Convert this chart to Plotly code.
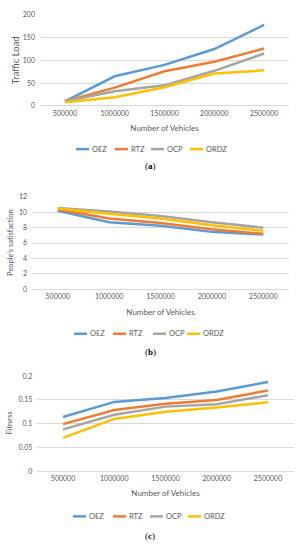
import plotly.graph_objects as go

categories = ["500000", "1000000", "1500000", "2000000", "2500000"]
series_names = ["OEZ", "RTZ", "OCP", "ORDZ"]
colors = ["#5B9BD5", "#ED7D31", "#A5A5A5", "#FFC000"]

traffic_load = {
    "OEZ": [10, 65, 90, 125, 178],
    "RTZ": [10, 40, 76, 97, 126],
    "OCP": [10, 32, 45, 77, 115],
    "ORDZ": [8, 19, 41, 71, 78],
}
satisfaction = {
    "OEZ": [10.2, 8.7, 8.25, 7.45, 7.1],
    "RTZ": [10.4, 9.2, 8.6, 7.8, 7.2],
    "OCP": [10.55, 10.1, 9.5, 8.7, 8.0],
    "ORDZ": [10.5, 9.8, 9.2, 8.3, 7.6],
}
fitness = {
    "OEZ": [0.114, 0.146, 0.154, 0.168, 0.188],
    "RTZ": [0.099, 0.129, 0.142, 0.150, 0.170],
    "OCP": [0.088, 0.119, 0.136, 0.141, 0.160],
    "ORDZ": [0.070, 0.110, 0.125, 0.134, 0.145],
}

y_titles = ["Traffic Load", "People's satisfaction", "Fitness"]
x_title = "Number of Vehicles"
captions = ["a", "b", "c"]
y_ticks = [[0, 50, 100, 150, 200], [0, 2, 4, 6, 8, 10, 12], [0, 0.05, 0.1, 0.15, 0.2]]
y_ticktext = [["0", "50", "100", "150", "200"], ["0", "2", "4", "6", "8", "10", "12"],
              ["0", "0.05", "0.1", "0.15", "0.2"]]
y_ranges = [[0, 200], [0, 12], [0, 0.2]]

W, H = 301, 550
FONT = "Lato, Open Sans, sans-serif"
GRAY = "#595959"

# pixel layout per panel: (x0, x1, ytop, ybottom)
panels_px = [(40, 289, 10.7, 103.3), (32, 289, 195, 289), (37.4, 293.6, 376.7, 473.3)]
legend_y = [147, 334, 519]
caption_y = [164, 352, 539]
ytitle_x = [15, 11, 10]
legend_x = [[76, 115, 151, 190], [74, 113, 153, 187], [73, 113, 150, 188]]
xtitle_standoff = [9, 10, 9]

datasets = [traffic_load, satisfaction, fitness]

fig = go.Figure()
shapes = []
annotations = []
for i, data in enumerate(datasets):
    xa = "x" if i == 0 else f"x{i+1}"
    ya = "y" if i == 0 else f"y{i+1}"
    for name, col in zip(series_names, colors):
        fig.add_trace(go.Scatter(
            x=categories, y=data[name], mode="lines", name=name,
            line=dict(color=col, width=2.5), xaxis=xa, yaxis=ya, showlegend=False,
            hoverinfo="skip",
        ))
    x0, x1, yt, yb = panels_px[i]
    xkey = "xaxis" if i == 0 else f"xaxis{i+1}"
    ykey = "yaxis" if i == 0 else f"yaxis{i+1}"
    span = y_ranges[i][1] - y_ranges[i][0]
    fig.update_layout({
        xkey: dict(
            domain=[x0 / W, x1 / W], anchor=ya, type="category",
            categoryorder="array", categoryarray=categories,
            range=[-0.5, 4.5], showgrid=False, zeroline=False, showline=False,
            ticks="", ticklabelstandoff=2, tickfont=dict(family=FONT, size=7, color=GRAY),
            title=dict(text=x_title, font=dict(family=FONT, size=8, color=GRAY),
                       standoff=xtitle_standoff[i]),
        ),
        ykey: dict(
            domain=[1 - yb / H, 1 - yt / H], anchor=xa,
            range=[y_ranges[i][0] - span * 0.002, y_ranges[i][1] + span * 0.004],
            tickvals=y_ticks[i], ticktext=y_ticktext[i],
            showgrid=True, gridcolor="#D9D9D9", gridwidth=1,
            zeroline=True, zerolinecolor="#D9D9D9", zerolinewidth=1,
            showline=False, ticks="", ticklabelstandoff=4,
            tickfont=dict(family=FONT, size=7, color=GRAY),
        ),
    })
    fs = [9.5, 7.5, 7.5][i]
    annotations.append(dict(
        text=y_titles[i], x=ytitle_x[i] / W, y=1 - ((yt + yb) / 2) / H,
        xref="paper", yref="paper", showarrow=False, textangle=-90,
        font=dict(family=FONT, size=fs, color=GRAY), xanchor="center", yanchor="middle",
    ))
    for j, (name, col) in enumerate(zip(series_names, colors)):
        lx = legend_x[i][j]
        ly = 1 - legend_y[i] / H
        shapes.append(dict(type="line", xref="paper", yref="paper",
                           x0=lx / W, x1=(lx + 13) / W, y0=ly, y1=ly,
                           line=dict(color=col, width=2.5)))
        annotations.append(dict(
            text=name, x=(lx + 14) / W, y=ly, xref="paper", yref="paper",
            showarrow=False, xanchor="left", yanchor="middle",
            font=dict(family=FONT, size=7.5, color=GRAY),
        ))
    annotations.append(dict(
        text=f"(<b>{captions[i]}</b>)", x=150 / W, y=1 - caption_y[i] / H,
        xref="paper", yref="paper", showarrow=False, xanchor="center", yanchor="middle",
        font=dict(family="Liberation Serif, serif", size=9, color="#000000"),
    ))

fig.update_layout(
    width=W, height=H, margin=dict(l=0, r=0, t=0, b=0),
    paper_bgcolor="white", plot_bgcolor="white",
    shapes=shapes, annotations=annotations, showlegend=False, hovermode=False,
)
fig.write_html(
    "out.html",
    config={"displayModeBar": False, "staticPlot": True},
    post_script="document.body.style.margin='0';document.body.style.overflow='hidden';",
)
